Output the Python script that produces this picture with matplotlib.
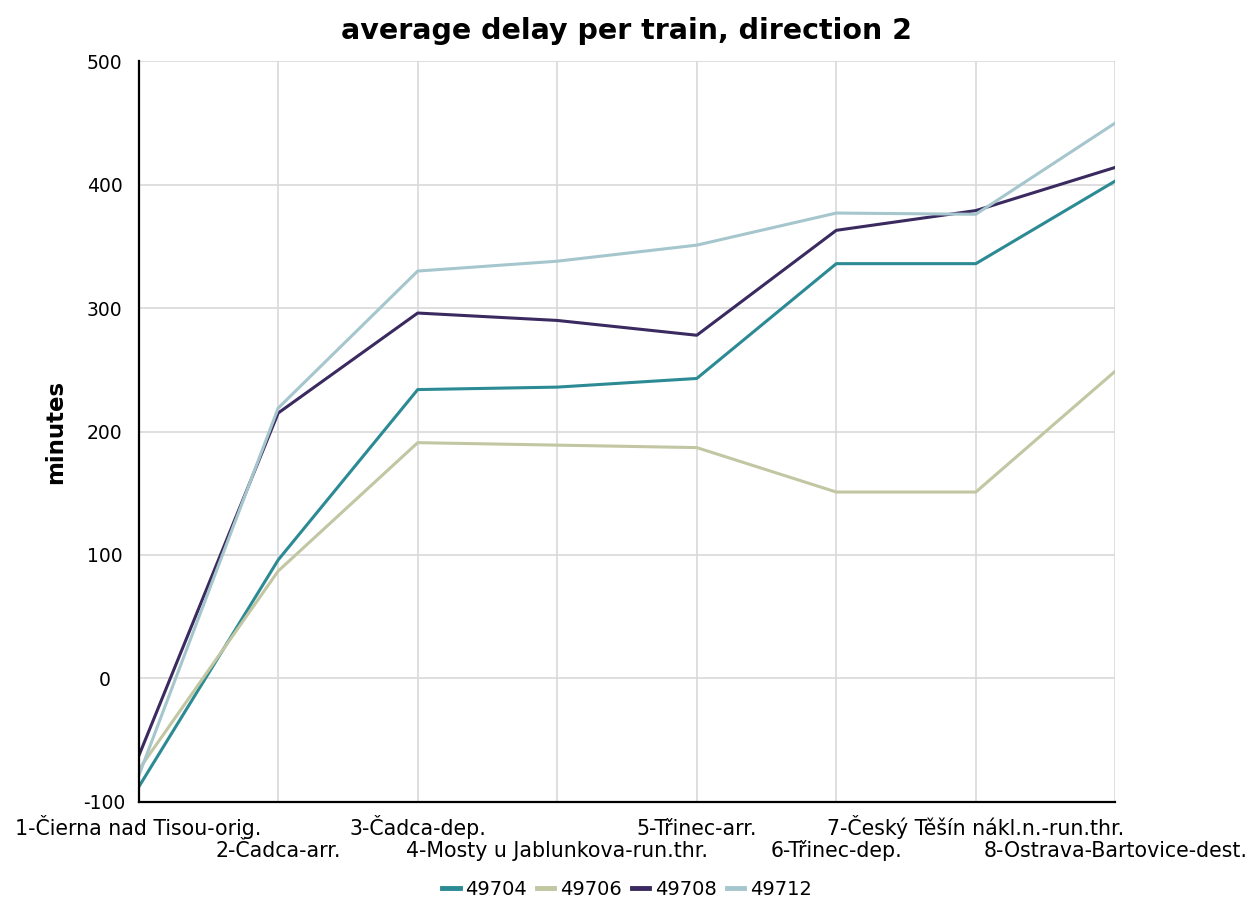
import matplotlib
matplotlib.use("Agg")
import matplotlib.pyplot as plt

plt.rcParams["axes.unicode_minus"] = False

stations = [
    "1-Čierna nad Tisou-orig.",
    "2-Čadca-arr.",
    "3-Čadca-dep.",
    "4-Mosty u Jablunkova-run.thr.",
    "5-Třinec-arr.",
    "6-Třinec-dep.",
    "7-Český Těšín nákl.n.-run.thr.",
    "8-Ostrava-Bartovice-dest.",
]
train_ids = ["49704", "49706", "49708", "49712"]
delay_49704 = [-88, 96, 234, 236, 243, 336, 336, 403]
delay_49706 = [-74, 87, 191, 189, 187, 151, 151, 249]
delay_49708 = [-63, 215, 296, 290, 278, 363, 379, 414]
delay_49712 = [-79, 219, 330, 338, 351, 377, 376, 450]
colors = ["#2b8a94", "#c2c6a2", "#3a2a5f", "#a6c6cd"]

fig = plt.figure(figsize=(12.49, 9), dpi=100)
ax = fig.add_axes([0.111, 0.109, 0.782, 0.823])

x = list(range(len(stations)))
for name, vals, c in zip(train_ids, [delay_49704, delay_49706, delay_49708, delay_49712], colors):
    ax.plot(x, vals, color=c, lw=2.2, label=name)

ax.set_xlim(0, len(stations) - 1)
ax.set_ylim(-100, 500)
ax.set_yticks(range(-100, 501, 100))

# long station names: odd ones on the first row, even ones on a second row
ax.set_xticks(x[0::2])
ax.set_xticklabels(stations[0::2], fontsize=14.8)
ax.set_xticks(x[1::2], minor=True)
ax.set_xticklabels(stations[1::2], minor=True, fontsize=14.8)
# baseline alignment so accented labels sit on the same line
for lab in ax.get_xticklabels(which="both"):
    lab.set_va("baseline")
ax.tick_params(axis="x", which="major", length=0, pad=23.5)
ax.tick_params(axis="x", which="minor", length=0, pad=39.5)
ax.tick_params(axis="y", labelsize=13.5, length=0, pad=24.5)
for lab in ax.get_yticklabels():
    lab.set_ha("center")

ax.grid(True, which="both", color="#d9d9d9", lw=1.2)
ax.set_axisbelow(True)
for s in ["top", "right"]:
    ax.spines[s].set_visible(False)
ax.spines["left"].set_linewidth(1.6)
ax.spines["bottom"].set_linewidth(1.6)

ax.set_ylabel("minutes", fontsize=16.5, fontweight="bold", labelpad=12)
ax.set_title("average delay per train, direction 2", fontsize=20.5, fontweight="bold", pad=16)

ax.legend(loc="center", bbox_to_anchor=(0.5, -0.118), ncol=4, frameon=False,
          fontsize=14, handlelength=0.9, handletextpad=0.3, columnspacing=0.5)
for h in ax.get_legend().get_lines():
    h.set_linewidth(3.5)

fig.savefig("out.png", dpi=100)
